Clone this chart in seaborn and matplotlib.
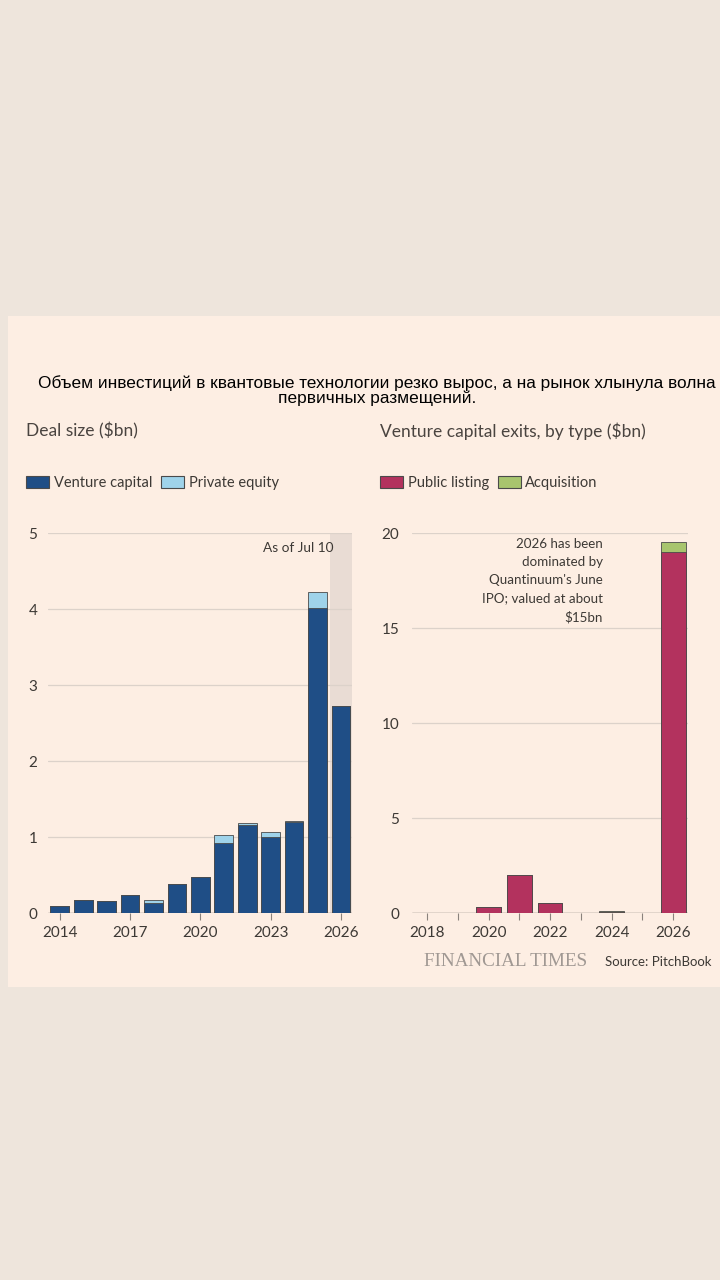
import numpy as np
import pandas as pd
import matplotlib.pyplot as plt
import seaborn as sns
from matplotlib.patches import Patch, Rectangle

sns.set_theme(style="white")
plt.rcParams['font.family'] = ['Lato', 'DejaVu Sans']

# ---- data ----
deal_years = [str(y) for y in range(2014, 2027)]
venture_capital = [0.09, 0.175, 0.16, 0.24, 0.14, 0.39, 0.48, 0.93, 1.16, 1.01, 1.20, 4.02, 2.73]
private_equity = [0.0, 0.0, 0.0, 0.0, 0.03, 0.0, 0.0, 0.10, 0.03, 0.06, 0.01, 0.21, 0.0]

exit_years = [str(y) for y in range(2018, 2027)]
public_listing = [0.03, 0.03, 0.35, 2.0, 0.53, 0.02, 0.07, 0.02, 19.0]
acquisition = [0.0, 0.0, 0.0, 0.0, 0.0, 0.0, 0.05, 0.0, 0.56]

BLUE = '#1f4e86'
LBLUE = '#9fd3ea'
CRIMSON = '#b3325e'
GREEN = '#a8c56e'
PANEL = '#fdeee3'
OUTER = '#eee5dc'
GRID = '#dcd2ca'
TXT = '#3d3935'
EDGE = '#4a4a4a'

fig = plt.figure(figsize=(7.2, 12.8), dpi=100)
fig.patch.set_facecolor(OUTER)
fig.patches.append(Rectangle((8 / 720, 1 - 987 / 1280), 712 / 720, 671 / 1280,
                             transform=fig.transFigure, facecolor=PANEL,
                             edgecolor='none', zorder=-5))

H = 1280.0
bottom = 1 - 913.3 / H
height = 380.0 / H
ax1 = fig.add_axes([48 / 720, bottom, 304 / 720, height])
ax2 = fig.add_axes([411.7 / 720, bottom, 276.3 / 720, height])

deal = pd.DataFrame({'year': deal_years, 'vc': venture_capital, 'pe': private_equity})
deal['total'] = deal['vc'] + deal['pe']
exits = pd.DataFrame({'year': exit_years, 'pl': public_listing, 'acq': acquisition})
exits['total'] = exits['pl'] + exits['acq']


def style_axis(ax, ymax, step):
    ax.set_facecolor('none')
    for s in ax.spines.values():
        s.set_visible(False)
    ax.set_ylim(0, ymax)
    ax.set_yticks(np.arange(0, ymax + 0.01, step))
    ax.yaxis.grid(True, color=GRID, linewidth=0.9, zorder=0)
    ax.set_axisbelow(True)
    ax.axhline(0, color='#8a827c', linewidth=1.0, zorder=1)
    ax.tick_params(axis='y', length=0, pad=9, labelsize=11, labelcolor=TXT)
    ax.tick_params(axis='x', length=5, width=0.8, color='#8a827c', pad=4,
                   labelsize=11, labelcolor=TXT, bottom=True)
    ax.set_xlabel('')
    ax.set_ylabel('')


# ---- left: deal size ----
ax1.axvspan(11.55, 12.5, color='#e9dcd4', zorder=0, linewidth=0)
sns.barplot(data=deal, x='year', y='total', color=LBLUE, saturation=1, width=0.8,
            edgecolor=EDGE, linewidth=0.6, ax=ax1, zorder=2)
sns.barplot(data=deal, x='year', y='vc', color=BLUE, saturation=1, width=0.8,
            edgecolor=EDGE, linewidth=0.6, ax=ax1, zorder=3)
ax1.set_xlim(-0.5, 12.47)
style_axis(ax1, 5, 1)
ax1.set_yticklabels(['0', '1', '2', '3', '4', '5'], ha='left')
ax1.tick_params(axis='y', pad=14)
ax1.set_xticks([0, 3, 6, 9, 12])
ax1.set_xticklabels(['2014', '2017', '2020', '2023', '2026'])
ax1.text(11.67, 4.81, 'As of Jul 10', ha='right', va='center', fontsize=9.8, color=TXT)

# ---- right: VC exits ----
sns.barplot(data=exits, x='year', y='total', color=GREEN, saturation=1, width=0.8,
            edgecolor=EDGE, linewidth=0.6, ax=ax2, zorder=2)
sns.barplot(data=exits, x='year', y='pl', color=CRIMSON, saturation=1, width=0.8,
            edgecolor=EDGE, linewidth=0.6, ax=ax2, zorder=3)
ax2.set_xlim(-0.5, 8.48)
style_axis(ax2, 20, 5)
ax2.set_xticks(range(len(exit_years)))
ax2.set_xticklabels([y if int(y) % 2 == 0 else '' for y in exit_years])
ax2.text(5.72, 19.75, "2026 has been\ndominated by\nQuantinuum's June\nIPO; valued at about\n$15bn",
         ha='right', va='top', fontsize=9.6, color=TXT, linespacing=1.62)

# ---- subtitles and legends ----
fig.text(26 / 720, 1 - 431 / H, 'Deal size ($bn)', fontsize=12.5, color='#4a4440', va='center')
fig.text(380 / 720, 1 - 431 / H, 'Venture capital exits, by type ($bn)', fontsize=12.5,
         color='#4a4440', va='center')

leg_kw = dict(frameon=False, ncol=2, fontsize=10.5, handlelength=1.6, handleheight=0.8,
              handletextpad=0.3, columnspacing=0.6, borderaxespad=0, borderpad=0,
              loc='center left', labelcolor=TXT)
h1 = [Patch(facecolor=BLUE, edgecolor=EDGE, linewidth=0.8, label='Venture capital'),
      Patch(facecolor=LBLUE, edgecolor=EDGE, linewidth=0.8, label='Private equity')]
fig.legend(handles=h1, bbox_to_anchor=(26 / 720, 1 - 483 / H), **leg_kw)
h2 = [Patch(facecolor=CRIMSON, edgecolor=EDGE, linewidth=0.8, label='Public listing'),
      Patch(facecolor=GREEN, edgecolor=EDGE, linewidth=0.8, label='Acquisition')]
fig.legend(handles=h2, bbox_to_anchor=(380 / 720, 1 - 483 / H), **leg_kw)

# ---- title ----
fig.text(377 / 720, 1 - 390.5 / H,
         'Объем инвестиций в квантовые технологии резко вырос, а на рынок хлынула волна\n'
         'первичных размещений.',
         ha='center', va='center', fontsize=12.4, color='black',
         family=['Liberation Sans', 'DejaVu Sans'], linespacing=1.02)

# ---- footer ----
fig.text(506 / 720, 1 - 962 / H, 'FINANCIAL TIMES', ha='center', va='center', fontsize=13.8,
         color='#a09893', family=['Liberation Serif', 'DejaVu Serif'])
fig.text(605 / 720, 1 - 962 / H, 'Source: PitchBook', ha='left', va='center', fontsize=9.5,
         color=TXT)

fig.savefig('out.png', dpi=100, facecolor=fig.get_facecolor())
